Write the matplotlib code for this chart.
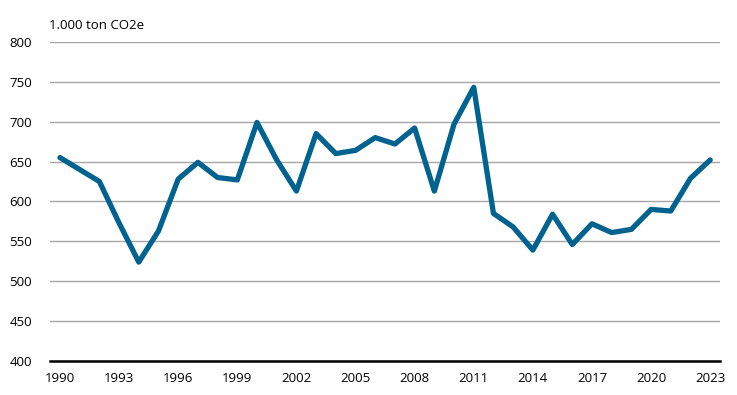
import matplotlib
matplotlib.use("Agg")
import matplotlib.pyplot as plt

years = list(range(1990, 2024))
emissions = [655, 640, 625, 573, 524, 563, 628, 649, 630, 627,
             699, 652, 613, 685, 660, 664, 680, 672, 692, 613,
             697, 743, 585, 568, 539, 584, 546, 572, 561, 565,
             590, 588, 629, 652]
x_ticks = list(range(1990, 2024, 3))
y_ticks = list(range(400, 801, 50))

plt.rcParams['font.family'] = ['Open Sans', 'DejaVu Sans']

fig = plt.figure(figsize=(7.37, 3.95), dpi=100)
ax = fig.add_axes([0.068, 0.086, 0.909, 0.808])

ax.plot(years, emissions, color='#00628f', linewidth=3.8, solid_joinstyle='round',
        solid_capstyle='round', zorder=3)

ax.set_xlim(1989.5, 2023.5)
ax.set_ylim(400, 800)
ax.set_xticks(x_ticks)
ax.set_yticks(y_ticks)
ax.grid(axis='y', color='#a6a6a6', linewidth=1.0)
ax.set_axisbelow(True)

for side in ['top', 'right', 'left']:
    ax.spines[side].set_visible(False)
ax.spines['bottom'].set_color('black')
ax.spines['bottom'].set_linewidth(1.8)
ax.spines['bottom'].set_zorder(4)

ax.tick_params(axis='both', length=0, labelsize=9.5, colors='black')
ax.tick_params(axis='x', pad=8)
ax.tick_params(axis='y', pad=13)

ax.text(-0.002, 1.03, '1.000 ton CO2e', transform=ax.transAxes,
        fontsize=9.5, ha='left', va='bottom')

fig.savefig('out.png', dpi=100)
